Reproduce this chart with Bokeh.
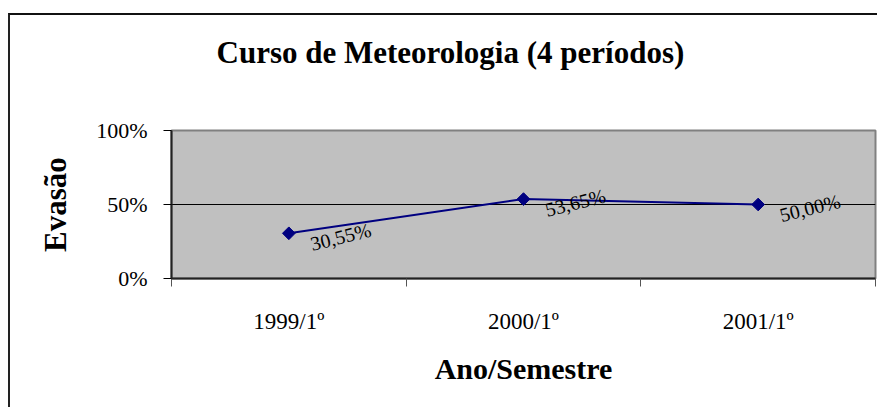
from bokeh.plotting import figure
from bokeh.models import Range1d, FixedTicker, NumeralTickFormatter, Title
from bokeh.core.properties import value
from bokeh.embed import file_html
from bokeh.resources import INLINE

# ---- data ----
categories = ["1999/1º", "2000/1º", "2001/1º"]
evasao = [0.3055, 0.5365, 0.5000]
labels = ["30,55%", "53,65%", "50,00%"]
y_ticks = [0.0, 0.5, 1.0]
title_text = "Curso de Meteorologia (4 períodos)"
x_title = "Ano/Semestre"
y_title = "Evasão"

SERIF = "Liberation Serif"
n = len(categories)
xpos = [i + 0.5 for i in range(n)]
boundaries = [float(i) for i in range(n + 1)]

p = figure(width=869, height=394,
           x_range=Range1d(0, n), y_range=Range1d(0, 1),
           output_backend="svg", toolbar_location=None,
           min_border_left=161, min_border_right=4,
           min_border_top=115, min_border_bottom=131)
p.title = None

# outer chart border (only top and left edges fall inside the window)
p.styles = {"margin-left": "8px", "margin-top": "13px",
            "border-left": "2px solid #222222",
            "border-top": "2px solid #111111"}

p.background_fill_color = "#c0c0c0"
p.border_fill_color = "white"
p.outline_line_color = "#808080"
p.outline_line_width = 2

# spacer panel between frame and title, then the title itself
spacer = Title(text=" ", text_font_size="10px", standoff=43)
p.add_layout(spacer, "above")
ttl = Title(text=title_text, align="left", offset=45, standoff=10)
ttl.text_font = SERIF
ttl.text_font_size = "31px"
ttl.text_font_style = "bold"
ttl.text_color = "black"
p.add_layout(ttl, "above")

# grid
p.xgrid.visible = False
p.ygrid.ticker = FixedTicker(ticks=[0.5])
p.ygrid.grid_line_color = "black"
p.ygrid.grid_line_width = 1

# y axis
yax = p.yaxis[0]
yax.ticker = FixedTicker(ticks=y_ticks)
yax.formatter = NumeralTickFormatter(format="0%")
yax.major_tick_out = 8
yax.major_tick_in = 0
yax.minor_tick_out = 0
yax.minor_tick_in = 0
yax.major_tick_line_color = "black"
yax.axis_line_color = "#222222"
yax.axis_line_width = 2
yax.major_label_text_font = SERIF
yax.major_label_text_font_size = "22px"
yax.major_label_text_color = "black"
yax.major_label_standoff = 16
yax.axis_label = y_title
yax.axis_label_text_font = SERIF
yax.axis_label_text_font_size = "31px"
yax.axis_label_text_font_style = "bold"
yax.axis_label_text_color = "black"
yax.axis_label_standoff = 20

# x axis
xax = p.xaxis[0]
xax.ticker = FixedTicker(ticks=xpos, minor_ticks=boundaries)
xax.major_label_overrides = {xpos[i]: categories[i] for i in range(n)}
xax.major_tick_out = 0
xax.major_tick_in = 0
xax.minor_tick_out = 8
xax.minor_tick_in = 0
xax.minor_tick_line_color = "#555555"
xax.axis_line_color = "#222222"
xax.axis_line_width = 2
xax.major_label_text_font = SERIF
xax.major_label_text_font_size = "23px"
xax.major_label_text_color = "black"
xax.major_label_standoff = 22
xax.axis_label = x_title
xax.axis_label_text_font = SERIF
xax.axis_label_text_font_size = "30px"
xax.axis_label_text_font_style = "bold"
xax.axis_label_text_color = "black"
xax.axis_label_standoff = 15

# series
p.line(xpos, evasao, line_color="#000080", line_width=2)
p.scatter(xpos, evasao, marker="square", angle=0.785398, size=9,
          fill_color="#000080", line_color="#000080")
p.text(xpos, evasao, text=labels, angle=0.245, x_offset=22, y_offset=11,
       text_font=value(SERIF), text_font_size="20px",
       text_baseline="alphabetic", text_align="left", text_color="black")

open("out.html", "w").write(file_html(p, INLINE))
